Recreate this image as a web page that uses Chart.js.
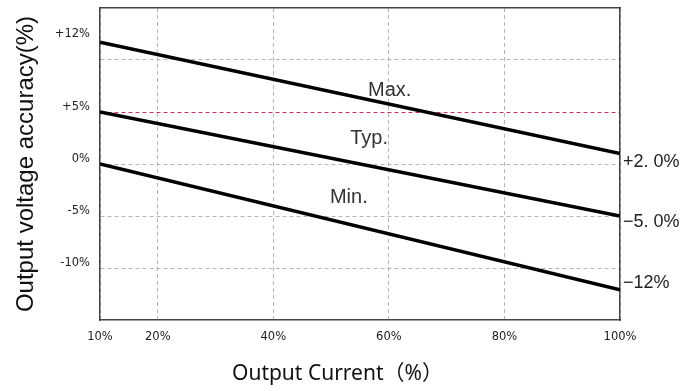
<!DOCTYPE html>
<html><head><meta charset="utf-8">
<script src="https://cdn.jsdelivr.net/npm/chart.js@4"></script>
<style>html,body{margin:0;padding:0;background:#fff;}</style>
</head><body>
<canvas id="c" width="693" height="391"></canvas>
<script>
const currentPct = [10, 100];
const maxAccuracy = [11.7, 1.0];
const typAccuracy = [5.0, -5.0];
const minAccuracy = [0.0, -12.1];
const xTickValues = [10, 20, 40, 60, 80, 100];
const yTickValues = [12, 10, 5, 0, -5, -10];
const yTickLabels = ["+12%", "", "+5%", "0%", "-5%", "-10%"];
const endTickValues = [0.2, -5.6, -11.4];
const endTickLabels = ["+2. 0%", "\u22125. 0%", "\u221212%"];
const curveNames = ["Max.", "Typ.", "Min."];
const curveNameX = [56.4, 53.3, 49.8];
const curveNameY = [7.1, 2.5, -3.2];

const pts = arr => currentPct.map((x, i) => ({x: x, y: arr[i]}));
const lineStyle = {borderColor: '#000', borderWidth: 3.5, pointRadius: 0, fill: false, tension: 0};

const annot = {
  id: 'annot',
  afterDatasetsDraw(chart) {
    const {ctx, scales: {x, y}} = chart;
    ctx.save();
    ctx.font = '20px "Liberation Sans", Arial, sans-serif';
    ctx.fillStyle = '#333';
    ctx.textAlign = 'left';
    ctx.textBaseline = 'middle';
    curveNames.forEach((t, i) => ctx.fillText(t, x.getPixelForValue(curveNameX[i]), y.getPixelForValue(curveNameY[i])));
    ctx.font = '21px "Noto Sans", "Noto Sans CJK JP", sans-serif';
    ctx.fillStyle = '#111';
    ctx.textBaseline = 'alphabetic';
    ctx.fillText('Output Current\uFF08%\uFF09', 232, 380);
    ctx.restore();
  }
};

const gridGray = '#b4b4b4';
const noPad = s => { s.paddingTop = 0; s.paddingBottom = 0; };
new Chart(document.getElementById('c'), {
  type: 'line',
  data: {
    datasets: [
      Object.assign({label: 'Max.', data: pts(maxAccuracy)}, lineStyle),
      Object.assign({label: 'Typ.', data: pts(typAccuracy)}, lineStyle),
      Object.assign({label: 'Min.', data: pts(minAccuracy)}, lineStyle)
    ]
  },
  plugins: [annot],
  options: {
    responsive: false,
    animation: false,
    devicePixelRatio: 1,
    layout: {padding: 0},
    plugins: {legend: {display: false}, tooltip: {enabled: false}},
    scales: {
      x: {
        type: 'linear', position: 'bottom', min: 10, max: 100,
        afterBuildTicks: s => { s.ticks = xTickValues.map(v => ({value: v})); },
        afterFit: s => { s.height = 71; },
        ticks: {callback: v => v + '%', font: {family: 'DejaVu Sans', size: 11.5}, color: '#222', padding: 10, maxRotation: 0, autoSkip: false},
        grid: {color: gridGray, lineWidth: 1, drawTicks: false},
        border: {display: true, color: '#444', width: 1.5, dash: [4, 3]}
      },
      x2: {
        type: 'linear', position: 'top', min: 10, max: 100,
        ticks: {display: false},
        grid: {display: false, drawTicks: false},
        border: {display: true, color: '#444', width: 1.5},
        afterFit: s => { s.height = 8; }
      },
      y: {
        type: 'linear', position: 'left', min: -15, max: 15,
        afterBuildTicks: s => { s.ticks = yTickValues.map(v => ({value: v})); },
        afterFit: s => { s.width = 100; noPad(s); },
        ticks: {callback: (v, i) => yTickLabels[i], font: {family: 'DejaVu Sans', size: 11.5}, color: '#222', padding: 10, labelOffset: -5, autoSkip: false},
        grid: {
          color: c => {
            const v = yTickValues[c.index];
            if (v === 12) return 'rgba(0,0,0,0)';
            if (v === 5) return '#cc3366';
            return gridGray;
          },
          lineWidth: 1, drawTicks: false
        },
        border: {display: true, color: '#444', width: 1.5, dash: [4, 3]},
        title: {display: true, text: 'Output voltage accuracy(%)', font: {family: 'Liberation Sans', size: 24}, color: '#111', padding: {top: 12, bottom: 0}}
      },
      y2: {
        type: 'linear', position: 'right', min: -15, max: 15,
        afterBuildTicks: s => { s.ticks = endTickValues.map(v => ({value: v})); },
        afterFit: s => { s.width = 73; noPad(s); },
        ticks: {callback: (v, i) => endTickLabels[i], font: {family: 'Liberation Sans', size: 18}, color: '#222', padding: 3, autoSkip: false},
        grid: {display: false, drawTicks: false},
        border: {display: true, color: '#444', width: 1.5}
      }
    }
  }
});
</script>
</body></html>
